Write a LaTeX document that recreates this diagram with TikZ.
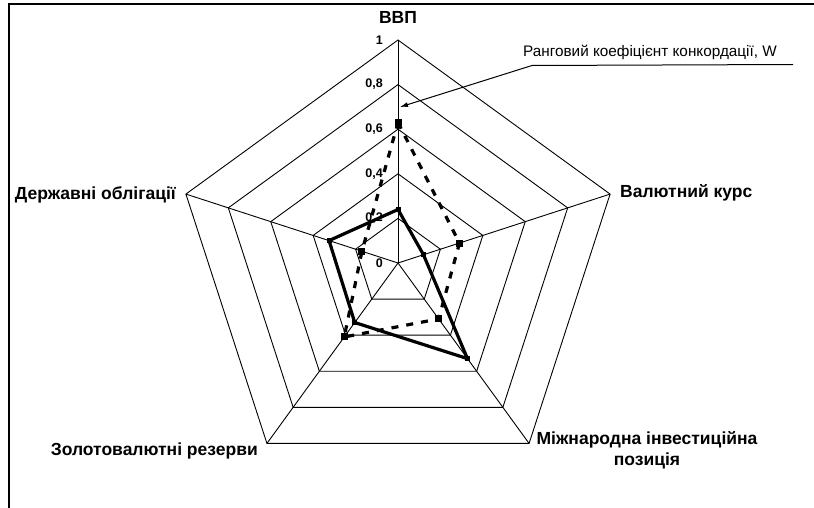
\documentclass[tikz,border=0pt]{standalone}
\usepackage{fontspec}
\setmainfont{Liberation Sans}
\usetikzlibrary{arrows.meta}

\tikzset{
  ring/.style={draw=black, line width=0.9pt},
  axlabel/.style={font=\bfseries\fontsize{17.5}{21}\selectfont, inner sep=0pt},
  ticklabel/.style={font=\bfseries\fontsize{12.5}{14}\selectfont, anchor=east, inner sep=0pt},
  serieA/.style={line width=3.2pt, line join=round},
  serieB/.style={line width=3.2pt, dash pattern=on 7pt off 8pt},
}

\begin{document}
\begin{tikzpicture}[x=1pt, y=1pt]
  \useasboundingbox (0,0) rectangle (814,-508);
  % рамка
  \draw[line width=1.4pt] (9,-508) -- (9,-4) -- (814,-4);

  \begin{scope}[shift={(398,-263)}]
    % кільця та осі
    \foreach \k in {1,...,5}
      \draw[ring] (90:\k*44.6) -- (18:\k*44.6) -- (-54:\k*44.6)
        -- (-126:\k*44.6) -- (162:\k*44.6) -- cycle;
    \foreach \a [count=\i] in {90,18,-54,-126,162}
      \coordinate (v\i) at (\a:223);
    \coordinate (c) at (0,0);
    \foreach \i in {1,...,5}
      \draw[ring] (c) -- (v\i);
    % шкала
    \foreach \t [count=\k from 0] in {0,{0,2},{0,4},{0,6},{0,8},1}
      \node[ticklabel] (t\k) at (-15,\k*44.6) {\t};
    % ряди даних
    \foreach \a/\v [count=\i] in {90/0.24,18/0.12,-54/0.53,-126/0.33,162/0.325}
      \coordinate (s\i) at (\a:\v*223);
    \foreach \a/\v [count=\i] in {90/0.63,18/0.29,-54/0.31,-126/0.41,162/0.17}
      \coordinate (d\i) at (\a:\v*223);
    \draw[serieB] (d1) -- (d2) -- (d3) -- (d4) -- (d5) -- cycle;
    \draw[serieA] (s1) -- (s2) -- (s3) -- (s4) -- (s5) -- cycle;
    \foreach \i in {1,...,5} {
      \fill ([shift={(-3.5,-3.5)}]d\i) rectangle ([shift={(3.5,3.5)}]d\i);
      \fill ([shift={(-2.5,-2.5)}]s\i) rectangle ([shift={(2.5,2.5)}]s\i);
    }
  \end{scope}

  % підписи осей
  \node[axlabel] (gdp) at (398,-17) {ВВП};
  \node[axlabel, anchor=west] (fx) at (620,-193) {Валютний курс};
  \node[axlabel, align=center] (iip) at (647,-450) {Міжнародна інвестиційна\\позиція};
  \node[axlabel, anchor=east] (res) at (258,-451) {Золотовалютні резерви};
  \node[axlabel, anchor=east] (bond) at (176,-195) {Державні облігації};

  % виноска
  \node[font=\fontsize{15.3}{17}\selectfont, inner sep=0pt, anchor=west] (wlab) at (523,-52)
    {Ранговий коефіцієнт конкордації, W};
  \coordinate (wl) at (532,-65.5);
  \coordinate (wr) at (793,-64.5);
  \coordinate (wtip) at (400,-107);
  \draw[line width=1pt] (wr) -- (wl);
  \draw[line width=1pt, -{Latex[length=8pt,width=5pt]}] (wl) -- (wtip);
\end{tikzpicture}
\end{document}
